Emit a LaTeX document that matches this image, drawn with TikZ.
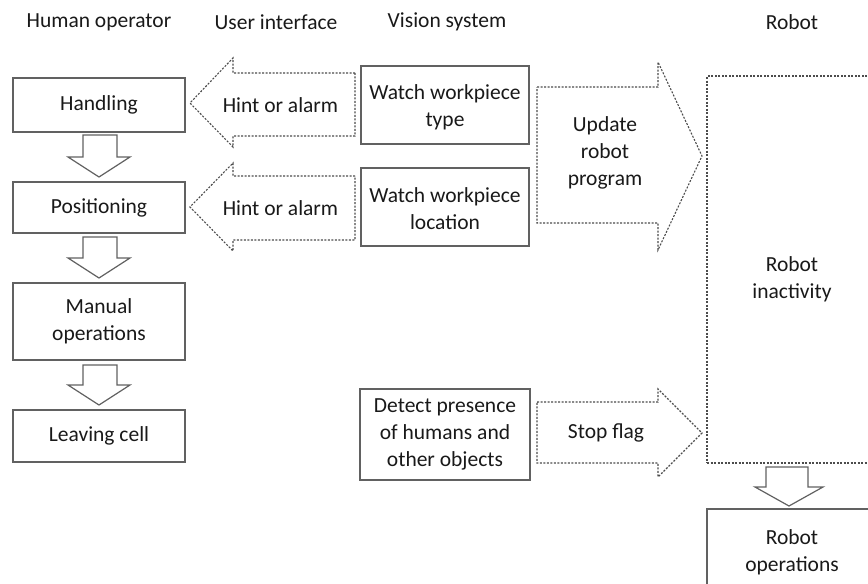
\documentclass[tikz,border=0pt]{standalone}
\usepackage{fontspec}
\setmainfont{Carlito}
\begin{document}
\begin{tikzpicture}[x=1pt,y=-1pt,
  every node/.style={font=\fontsize{21.5}{27}\selectfont, text=black!90, align=center, inner sep=0pt},
  solidbox/.style={draw=black!62, line width=1.2pt, minimum width=172pt},
  visbox/.style={draw=black!62, line width=1.2pt, minimum width=168pt},
  dotbox/.style={draw=black!70, line width=1.1pt, dash pattern=on 2pt off 1.5pt},
  downarrow/.style={draw=black!62, line width=1.2pt, fill=white},
  hdr/.style={}]
\useasboundingbox (0,0) rectangle (868,584);
% headers
\node[hdr] (h1) at (99,22) {Human operator};
\node[hdr] (h2) at (276,22) {User interface};
\node[hdr] (h3) at (447,22) {Vision system};
\node[hdr] (h4) at (792,22) {Robot};
% human column
\node[solidbox, minimum height=54pt] (hand) at (99,105) {Handling};
\node[solidbox, minimum height=51pt] (pos) at (99,207.5) {Positioning};
\node[solidbox, minimum height=77pt] (man) at (99,321.5) {Manual\\operations};
\node[solidbox, minimum height=52pt] (leave) at (99,436) {Leaving cell};
% down arrows human
\draw[downarrow] (83,135) -- (117,135) -- (117,157) -- (130,157) -- (99,177) -- (68,157) -- (83,157) -- cycle;
\draw[downarrow] (83,237) -- (117,237) -- (117,258) -- (130,258) -- (99,278) -- (68,258) -- (83,258) -- cycle;
\draw[downarrow] (83,365) -- (117,365) -- (117,385) -- (130,385) -- (99,405) -- (68,385) -- (83,385) -- cycle;
% vision boxes
\node[visbox, minimum height=78pt] (vtype) at (445,105) {};
\node (vtypetxt) at (445,107) {Watch workpiece\\type};
\node[visbox, minimum height=78pt] (vloc) at (445,207) {};
\node (vloctxt) at (445,209) {Watch workpiece\\location};
\node[visbox, minimum width=170pt, minimum height=91pt] (vdet) at (445,434.5) {Detect presence\\of humans and\\other objects};
% hint arrows
\draw[dotbox] (355,73) -- (233,73) -- (233,58) -- (190,103) -- (233,147) -- (233,136) -- (355,136) -- cycle;
\node (hint1) at (280.5,105) {Hint or alarm};
\draw[dotbox] (355,176) -- (233,176) -- (233,163) -- (190,207) -- (233,251) -- (233,240) -- (355,240) -- cycle;
\node (hint2) at (280.5,208) {Hint or alarm};
% update arrow
\draw[dotbox] (537,87) -- (658,87) -- (658,62) -- (702,156) -- (658,250) -- (658,223) -- (537,223) -- cycle;
\node (upd) at (605,153) {Update\\robot\\program};
% stop flag arrow
\draw[dotbox] (537,402) -- (658,402) -- (658,389) -- (702,433) -- (658,477) -- (658,463) -- (537,463) -- cycle;
\node (stop) at (606,433) {Stop flag};
% robot
\node[dotbox, minimum width=170pt, minimum height=387pt] (inact) at (792,269.5) {};
\node (inacttxt) at (792,279) {Robot\\inactivity};
\draw[downarrow] (766,467) -- (808,467) -- (808,487) -- (823,487) -- (789,506) -- (755,487) -- (766,487) -- cycle;
\node[solidbox, minimum width=170pt, minimum height=91pt] (rops) at (792,554.5) {};
\node (ropstxt) at (792,552) {Robot\\operations};
\end{tikzpicture}
\end{document}
